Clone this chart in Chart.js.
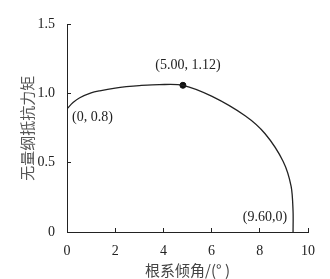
<!DOCTYPE html>
<html lang="zh">
<head>
  <meta charset="UTF-8" />
  <title>无量纲抵抗力矩</title>
  <script src="https://cdn.jsdelivr.net/npm/chart.js"></script>
  <style>
    body { margin: 0; background: #fff; }
    canvas { display: block; }
  </style>
</head>
<body>
  <canvas id="momentChart" width="330" height="279"></canvas>

  <script>
    // curve
    const angles  = [0, 0.25, 0.53, 1.0, 1.36, 2.0, 2.46, 3.0, 3.83, 4.81, 6.02, 7.39, 8.22, 8.97, 9.3, 9.38, 9.38];
    const moments = [0.89, 0.935, 0.97, 1.005, 1.02, 1.04, 1.05, 1.058, 1.065, 1.06, 0.98, 0.84, 0.71, 0.51, 0.33, 0.15, 0];

    const peakAngle = [4.81];
    const peakMoment = [1.06];

    const xTicks = [0, 2, 4, 6, 8, 10];
    const yTicks = [0, 0.5, 1.0, 1.5];

    // point labels: text, anchor value
    const noteTexts = ['(5.00, 1.12)', '(0, 0.8)', '(9.60,0)'];
    const noteX = [4.81, 0, 9.38];
    const noteY = [1.06, 0.89, 0];

    const ink = '#222';
    const serif = '"Liberation Serif", "DejaVu Serif", serif';
    const cjk = '"Noto Sans CJK SC", sans-serif';

    const notes = {
      id: 'notes',
      afterDatasetsDraw(chart) {
        const { ctx, scales: { x, y } } = chart;
        const offs = [[5, -20, 'center'], [5, 9, 'left'], [-6, -15, 'right']];
        ctx.save();
        ctx.font = '14px ' + serif;
        ctx.fillStyle = ink;
        ctx.textBaseline = 'middle';
        noteTexts.forEach((t, i) => {
          ctx.textAlign = offs[i][2];
          ctx.fillText(t, x.getPixelForValue(noteX[i]) + offs[i][0], y.getPixelForValue(noteY[i]) + offs[i][1]);
        });
        ctx.restore();
      }
    };

    new Chart(document.getElementById('momentChart'), {
      type: 'scatter',
      data: {
        datasets: [{
          data: angles.map((a, i) => ({ x: a, y: moments[i] })),
          showLine: true,
          borderColor: ink,
          borderWidth: 1.3,
          pointRadius: 0,
          tension: 0.3
        }, {
          data: peakAngle.map((a, i) => ({ x: a, y: peakMoment[i] })),
          pointRadius: 3,
          backgroundColor: '#111',
          borderColor: '#111'
        }]
      },
      options: {
        responsive: false,
        animation: false,
        layout: { padding: { left: 0, top: 20, right: 20, bottom: 0 } },
        plugins: { legend: { display: false }, tooltip: { enabled: false } },
        scales: {
          x: {
            type: 'linear',
            min: 0,
            max: 10,
            afterFit: (s) => { s.height = 47; },
            afterBuildTicks: (s) => { s.ticks = xTicks.map(v => ({ value: v })); },
            grid: { drawOnChartArea: false, tickLength: -4, color: ink },
            border: { color: ink, width: 1 },
            ticks: { padding: 15, color: ink, font: { family: serif, size: 14 } },
            title: {
              display: true,
              text: '根系倾角/(° )',
              color: '#444',
              font: { family: cjk, size: 15 },
              padding: { top: 0, bottom: 0 }
            }
          },
          y: {
            min: 0,
            max: 1.5,
            afterFit: (s) => { s.width = 67; },
            afterBuildTicks: (s) => { s.ticks = yTicks.map(v => ({ value: v })); },
            grid: { drawOnChartArea: false, tickLength: -4, color: ink },
            border: { color: ink, width: 1 },
            ticks: {
              padding: 16,
              color: ink,
              font: { family: serif, size: 14 },
              callback: (v) => v === 0 ? '0' : v.toFixed(1)
            },
            title: {
              display: true,
              text: '无量纲抵抗力矩',
              color: '#555',
              font: { family: cjk, size: 15 },
              padding: { top: 18, bottom: 0 }
            }
          }
        }
      },
      plugins: [notes]
    });
  </script>
</body>
</html>
